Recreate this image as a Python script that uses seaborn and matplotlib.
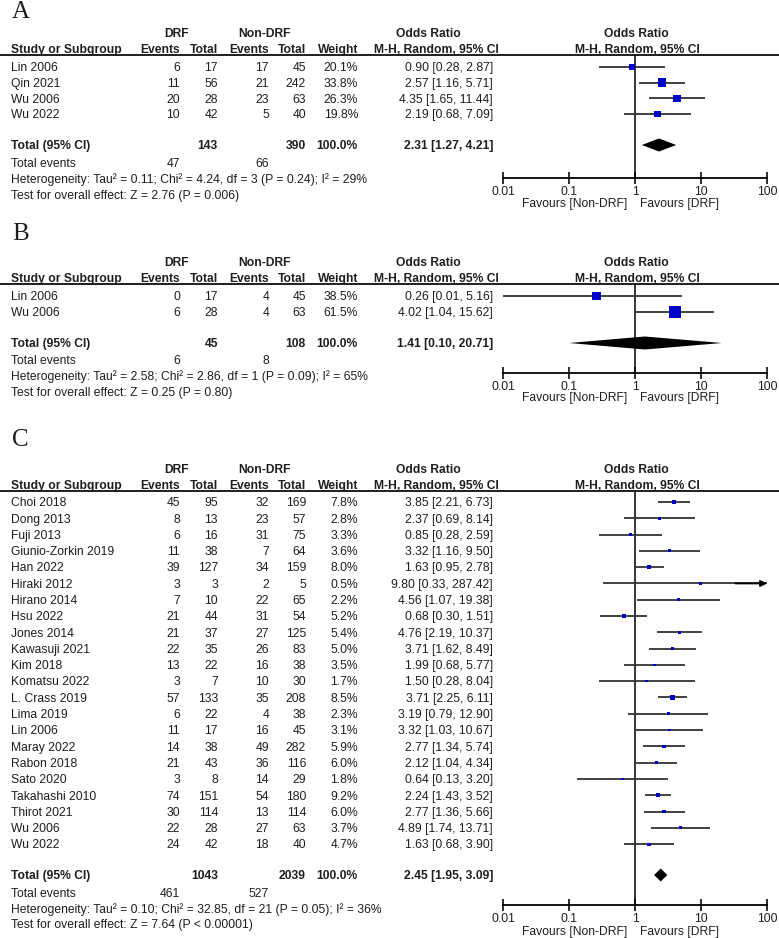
import numpy as np
import pandas as pd
import matplotlib
matplotlib.use("Agg")
import matplotlib.pyplot as plt
import seaborn as sns

# ---- Panel A ----
a_study = ["Lin 2006", "Qin 2021", "Wu 2006", "Wu 2022"]
a_drf_ev = [6, 11, 20, 10]
a_drf_n = [17, 56, 28, 42]
a_non_ev = [17, 21, 23, 5]
a_non_n = [45, 242, 63, 40]
a_weight = [20.1, 33.8, 26.3, 19.8]
a_or = [0.90, 2.57, 4.35, 2.19]
a_lo = [0.28, 1.16, 1.65, 0.68]
a_hi = [2.87, 5.71, 11.44, 7.09]
a_tot_n = [143, 390]
a_tot_ev = [47, 66]
a_tot_or = [2.31, 1.27, 4.21]
a_het = "Heterogeneity: Tau² = 0.11; Chi² = 4.24, df = 3 (P = 0.24); I² = 29%"
a_test = "Test for overall effect: Z = 2.76 (P = 0.006)"

# ---- Panel B ----
b_study = ["Lin 2006", "Wu 2006"]
b_drf_ev = [0, 6]
b_drf_n = [17, 28]
b_non_ev = [4, 4]
b_non_n = [45, 63]
b_weight = [38.5, 61.5]
b_or = [0.26, 4.02]
b_lo = [0.01, 1.04]
b_hi = [5.16, 15.62]
b_tot_n = [45, 108]
b_tot_ev = [6, 8]
b_tot_or = [1.41, 0.10, 20.71]
b_het = "Heterogeneity: Tau² = 2.58; Chi² = 2.86, df = 1 (P = 0.09); I² = 65%"
b_test = "Test for overall effect: Z = 0.25 (P = 0.80)"

# ---- Panel C ----
c_study = ["Choi 2018", "Dong 2013", "Fuji 2013", "Giunio-Zorkin 2019", "Han 2022",
           "Hiraki 2012", "Hirano 2014", "Hsu 2022", "Jones 2014", "Kawasuji 2021",
           "Kim 2018", "Komatsu 2022", "L. Crass 2019", "Lima 2019", "Lin 2006",
           "Maray 2022", "Rabon 2018", "Sato 2020", "Takahashi 2010", "Thirot 2021",
           "Wu 2006", "Wu 2022"]
c_drf_ev = [45, 8, 6, 11, 39, 3, 7, 21, 21, 22, 13, 3, 57, 6, 11, 14, 21, 3, 74, 30, 22, 24]
c_drf_n = [95, 13, 16, 38, 127, 3, 10, 44, 37, 35, 22, 7, 133, 22, 17, 38, 43, 8, 151, 114, 28, 42]
c_non_ev = [32, 23, 31, 7, 34, 2, 22, 31, 27, 26, 16, 10, 35, 4, 16, 49, 36, 14, 54, 13, 27, 18]
c_non_n = [169, 57, 75, 64, 159, 5, 65, 54, 125, 83, 38, 30, 208, 38, 45, 282, 116, 29, 180, 114, 63, 40]
c_weight = [7.8, 2.8, 3.3, 3.6, 8.0, 0.5, 2.2, 5.2, 5.4, 5.0, 3.5, 1.7, 8.5, 2.3, 3.1,
            5.9, 6.0, 1.8, 9.2, 6.0, 3.7, 4.7]
c_or = [3.85, 2.37, 0.85, 3.32, 1.63, 9.80, 4.56, 0.68, 4.76, 3.71, 1.99, 1.50, 3.71,
        3.19, 3.32, 2.77, 2.12, 0.64, 2.24, 2.77, 4.89, 1.63]
c_lo = [2.21, 0.69, 0.28, 1.16, 0.95, 0.33, 1.07, 0.30, 2.19, 1.62, 0.68, 0.28, 2.25,
        0.79, 1.03, 1.34, 1.04, 0.13, 1.43, 1.36, 1.74, 0.68]
c_hi = [6.73, 8.14, 2.59, 9.50, 2.78, 287.42, 19.38, 1.51, 10.37, 8.49, 5.77, 8.04, 6.11,
        12.90, 10.67, 5.74, 4.34, 3.20, 3.52, 5.66, 13.71, 3.90]
c_tot_n = [1043, 2039]
c_tot_ev = [461, 527]
c_tot_or = [2.45, 1.95, 3.09]
c_het = "Heterogeneity: Tau² = 0.10; Chi² = 32.85, df = 21 (P = 0.05); I² = 36%"
c_test = "Test for overall effect: Z = 7.64 (P < 0.00001)"

sns.set_style("white")
plt.rcParams["font.family"] = ["Liberation Sans", "DejaVu Sans"]

W, H = 779, 938
TXT = "#1e1e1e"
BLUE = "#0000c8"
FS = 8.7

fig = plt.figure(figsize=(W / 100, H / 100), dpi=100)
bg = fig.add_axes([0, 0, 1, 1])
bg.set_xlim(0, W)
bg.set_ylim(H, 0)
bg.axis("off")


def put(x, y, s, ha="left", bold=False):
    bg.text(x, y + 4.3, s, ha=ha, va="baseline", fontsize=FS,
            fontweight="bold" if bold else "normal", color=TXT)


def draw_panel(letter, d, g):
    top = g["line"]
    bg.text(12, g["letter"] + 7.5, letter, family="Liberation Serif",
            fontsize=18, va="baseline", color=TXT)
    # intestazioni
    put(177, top - 22, "DRF", "center", True)
    put(265, top - 22, "Non-DRF", "center", True)
    put(428, top - 22, "Odds Ratio", "center", True)
    put(636, top - 22, "Odds Ratio", "center", True)
    put(11, top - 6.5, "Study or Subgroup", bold=True)
    for x, s in [(180, "Events"), (218, "Total"), (269, "Events"), (306, "Total"),
                 (358, "Weight"), (499, "M-H, Random, 95% CI")]:
        put(x, top - 6.5, s, "right", True)
    put(637, top - 6.5, "M-H, Random, 95% CI", "center", True)
    bg.plot([0, W], [top, top], color=TXT, lw=1.4)

    n = len(d["study"])
    ys = top + g["first"] + np.arange(n) * g["step"]
    for i in range(n):
        y = ys[i]
        put(11, y, d["study"][i])
        put(180, y, str(d["ev1"][i]), "right")
        put(218, y, str(d["n1"][i]), "right")
        put(269, y, str(d["ev2"][i]), "right")
        put(306, y, str(d["n2"][i]), "right")
        put(358, y, f"{d['w'][i]:.1f}%", "right")
        put(493, y, f"{d['or'][i]:.2f} [{d['lo'][i]:.2f}, {d['hi'][i]:.2f}]", "right")

    ty = g["total"]
    t_or, t_lo, t_hi = d["tot_or"]
    put(11, ty, "Total (95% CI)", bold=True)
    put(218, ty, str(d["tot_n"][0]), "right", True)
    put(306, ty, str(d["tot_n"][1]), "right", True)
    put(358, ty, "100.0%", "right", True)
    put(493, ty, f"{t_or:.2f} [{t_lo:.2f}, {t_hi:.2f}]", "right", True)
    put(11, g["events"], "Total events")
    put(180, g["events"], str(d["tot_ev"][0]), "right")
    put(269, g["events"], str(d["tot_ev"][1]), "right")
    put(11, g["het"], d["het"])
    put(11, g["test"], d["test"])

    # forest plot
    ay = g["axis"]
    ax = fig.add_axes([503 / W, 1 - ay / H, (767 - 503) / W, (ay - top) / H])
    ax.patch.set_alpha(0)
    df = pd.DataFrame({"or": d["or"], "lo": d["lo"], "hi": d["hi"], "y": ys,
                       "w": d["w"]})
    side_px = np.maximum(1.45 * np.sqrt(df["w"]), 2.6)
    df["area"] = (side_px * 0.72) ** 2
    xmax = 100
    ax.hlines(df["y"], df["lo"], np.minimum(df["hi"], xmax), color="#333333", lw=1.3, zorder=2)
    for _, r in df[df["hi"] > xmax].iterrows():
        ax.annotate("", xy=(xmax, r["y"]), xytext=(xmax / 3, r["y"]),
                    arrowprops=dict(arrowstyle="-|>", color="black", lw=1.3,
                                    mutation_scale=9, shrinkA=0, shrinkB=0),
                    annotation_clip=False)
    amin, amax = df["area"].min(), df["area"].max()
    if amin == amax:
        amax = amin + 1e-6
    sns.scatterplot(data=df, x="or", y="y", size="area", sizes=(amin, amax),
                    size_norm=(amin, amax), marker="s", color=BLUE, linewidth=0,
                    legend=False, ax=ax, zorder=3)
    h = 6.5
    ax.fill([t_lo, t_or, t_hi, t_or], [ty, ty - h, ty, ty + h], color="black", lw=0, zorder=3)
    ax.axvline(1, color="black", lw=1.1, zorder=1)

    ax.set_xscale("log")
    ax.set_xlim(0.01, 100)
    ax.set_ylim(ay, top)
    ax.set_xlabel("")
    ax.set_ylabel("")
    for s in ["top", "left", "right"]:
        ax.spines[s].set_visible(False)
    ax.spines["bottom"].set_linewidth(1.3)
    ax.spines["bottom"].set_color("black")
    ax.set_xticks([0.01, 0.1, 1, 10, 100])
    ax.set_xticklabels(["0.01", "0.1", "1", "10", "100"])
    ax.minorticks_off()
    ax.set_yticks([])
    ax.tick_params(axis="x", direction="inout", length=9, width=1.3, pad=1.5,
                   labelsize=FS, colors=TXT, bottom=True)

    put(627, g["fav"], "Favours [Non-DRF]", "right")
    put(640, g["fav"], "Favours [DRF]", "left")


panels = [
    ("A", dict(study=a_study, ev1=a_drf_ev, n1=a_drf_n, ev2=a_non_ev, n2=a_non_n,
               w=a_weight, **{"or": a_or}, lo=a_lo, hi=a_hi, tot_n=a_tot_n,
               tot_ev=a_tot_ev, tot_or=a_tot_or, het=a_het, test=a_test),
     dict(letter=11, line=55, first=12, step=15.7, total=145, events=163, het=179,
          test=195, axis=178, fav=203)),
    ("B", dict(study=b_study, ev1=b_drf_ev, n1=b_drf_n, ev2=b_non_ev, n2=b_non_n,
               w=b_weight, **{"or": b_or}, lo=b_lo, hi=b_hi, tot_n=b_tot_n,
               tot_ev=b_tot_ev, tot_or=b_tot_or, het=b_het, test=b_test),
     dict(letter=233, line=284, first=12, step=16, total=343, events=360, het=376,
          test=392, axis=373, fav=397)),
    ("C", dict(study=c_study, ev1=c_drf_ev, n1=c_drf_n, ev2=c_non_ev, n2=c_non_n,
               w=c_weight, **{"or": c_or}, lo=c_lo, hi=c_hi, tot_n=c_tot_n,
               tot_ev=c_tot_ev, tot_or=c_tot_or, het=c_het, test=c_test),
     dict(letter=438, line=491, first=11, step=16.29, total=875, events=893, het=909,
          test=924, axis=905, fav=931)),
]

for letter, d, g in panels:
    draw_panel(letter, d, g)

fig.savefig("out.png", dpi=100)
